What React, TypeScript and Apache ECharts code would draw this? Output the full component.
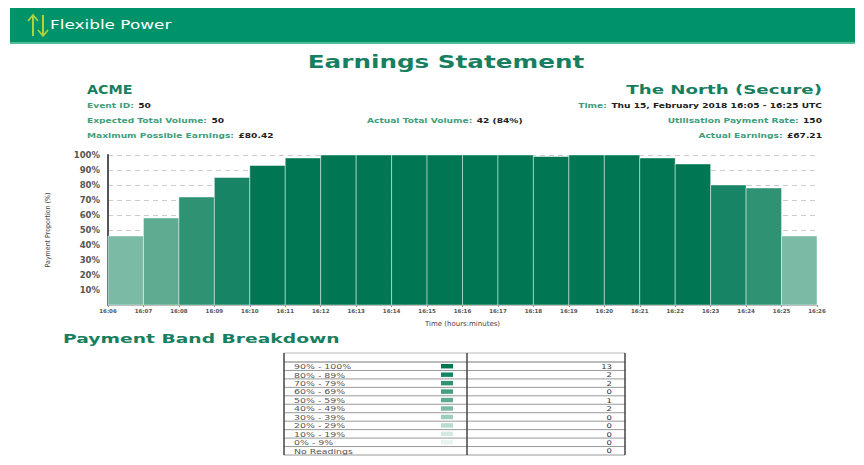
import React, { useEffect, useRef } from 'react';
import * as echarts from 'echarts';

const tickLabels = ['16:06','16:07','16:08','16:09','16:10','16:11','16:12','16:13','16:14','16:15','16:16','16:17','16:18','16:19','16:20','16:21','16:22','16:23','16:24','16:25','16:26'];
const paymentValues = [46, 58, 72, 85, 93, 98, 100, 100, 100, 100, 100, 100, 99, 100, 100, 98, 94, 80, 78, 46];
const bandLabels = ['90% - 100%','80% - 89%','70% - 79%','60% - 69%','50% - 59%','40% - 49%','30% - 39%','20% - 29%','10% - 19%','0% - 9%','No Readings'];
const bandCounts = [13, 2, 2, 0, 1, 2, 0, 0, 0, 0, 0];
const bandColors = ['#007653','#178565','#2e9273','#469e82','#5eab91','#7bbba6','#9ccdbd','#b9dcd0','#d3e9e1','#e8f3ef', ''];

const GREEN_HEAD = '#177f5f';
const GREEN_LBL = '#3f9e7d';
const DARK = '#222';

function bandIndex(v: number) {
  const i = 9 - Math.floor(v / 10);
  return Math.max(0, Math.min(9, i));
}

function infoText(x: number, y: number, label: string, value: string, align: string, sx = 1.3) {
  return {
    type: 'text', x, y, scaleX: sx,
    style: {
      text: `{l|${label}} {v|${value}}`,
      textAlign: align, textVerticalAlign: 'middle',
      rich: {
        l: { fontFamily: 'DejaVu Sans', fontSize: 7, fontWeight: 'bold', fill: GREEN_LBL, color: GREEN_LBL },
        v: { fontFamily: 'DejaVu Sans', fontSize: 7, fontWeight: 'bold', fill: DARK, color: DARK },
      },
    },
  };
}

export default function App() {
  const ref = useRef<HTMLDivElement>(null);
  useEffect(() => {
    if (!ref.current) return;
    const chart = echarts.init(ref.current, undefined, { renderer: 'svg' });
    const graphics: any[] = [];
    // header
    graphics.push({ type: 'rect', shape: { x: 10, y: 8, width: 845, height: 36 }, style: { fill: '#00936a' } });
    graphics.push({ type: 'rect', shape: { x: 10, y: 42, width: 845, height: 2 }, style: { fill: '#4fbf9a' } });
    graphics.push({ type: 'polyline', shape: { points: [[33, 36], [33, 16]] }, style: { stroke: '#b3d23a', lineWidth: 2, fill: 'none' } });
    graphics.push({ type: 'polyline', shape: { points: [[28, 21], [33, 15], [38, 21]] }, style: { stroke: '#b3d23a', lineWidth: 1.6, fill: 'none' } });
    graphics.push({ type: 'polyline', shape: { points: [[43, 15], [43, 35]] }, style: { stroke: '#b3d23a', lineWidth: 2, fill: 'none' } });
    graphics.push({ type: 'polyline', shape: { points: [[38, 30], [43, 36], [48, 30]] }, style: { stroke: '#b3d23a', lineWidth: 1.6, fill: 'none' } });
    graphics.push({ type: 'text', x: 50, y: 25, scaleX: 1.3, style: { text: 'Flexible Power', fill: '#fff', fontFamily: 'DejaVu Sans', fontSize: 13, textVerticalAlign: 'middle' } });
    // title
    graphics.push({ type: 'text', x: 446, y: 62, scaleX: 1.37, style: { text: 'Earnings Statement', fill: GREEN_HEAD, fontFamily: 'DejaVu Sans', fontWeight: 'bold', fontSize: 18, textAlign: 'center', textVerticalAlign: 'middle' } });
    graphics.push({ type: 'text', x: 87, y: 89, scaleX: 1.1, style: { text: 'ACME', fill: GREEN_HEAD, fontFamily: 'DejaVu Sans', fontWeight: 'bold', fontSize: 13, textAlign: 'left', textVerticalAlign: 'middle' } });
    graphics.push({ type: 'text', x: 822, y: 89, scaleX: 1.4, style: { text: 'The North (Secure)', fill: GREEN_HEAD, fontFamily: 'DejaVu Sans', fontWeight: 'bold', fontSize: 13, textAlign: 'right', textVerticalAlign: 'middle' } });
    graphics.push(infoText(87, 105, 'Event ID:', '50', 'left'));
    graphics.push(infoText(822, 105, 'Time:', 'Thu 15, February 2018 16:05 - 16:25 UTC', 'right'));
    graphics.push(infoText(87, 120, 'Expected Total Volume:', '50', 'left'));
    graphics.push(infoText(367, 120, 'Actual Total Volume:', '42 (84%)', 'left'));
    graphics.push(infoText(822, 120, 'Utilisation Payment Rate:', '150', 'right'));
    graphics.push(infoText(87, 135, 'Maximum Possible Earnings:', '£80.42', 'left'));
    graphics.push(infoText(822, 135, 'Actual Earnings:', '£67.21', 'right'));
    // band breakdown
    graphics.push({ type: 'text', x: 63, y: 339, scaleX: 1.44, style: { text: 'Payment Band Breakdown', fill: GREEN_HEAD, fontFamily: 'DejaVu Sans', fontWeight: 'bold', fontSize: 13, textAlign: 'left', textVerticalAlign: 'middle' } });
    const tx0 = 284, tx1 = 625, txm = 467, ty0 = 353, tyh = 362, rowH = (455 - 362) / 11;
    graphics.push({ type: 'line', shape: { x1: tx0, y1: ty0, x2: tx1, y2: ty0 }, style: { stroke: '#bbb', lineWidth: 1 } });
    graphics.push({ type: 'line', shape: { x1: tx0, y1: tyh, x2: tx1, y2: tyh }, style: { stroke: '#777', lineWidth: 1 } });
    bandLabels.forEach((lab, i) => {
      const y = tyh + rowH * i;
      const yb = y + rowH;
      graphics.push({ type: 'line', shape: { x1: tx0, y1: yb, x2: tx1, y2: yb }, style: { stroke: '#999', lineWidth: 1 } });
      graphics.push({ type: 'text', x: 294, y: y + rowH / 2 + 0.5, scaleX: 1.45, style: { text: lab, fill: '#555', fontFamily: 'DejaVu Sans', fontSize: 6.5, textVerticalAlign: 'middle' } });
      if (bandColors[i]) graphics.push({ type: 'rect', shape: { x: 441, y: y + 2, width: 12, height: rowH - 4 }, style: { fill: bandColors[i] } });
      graphics.push({ type: 'text', x: 612, y: y + rowH / 2 + 0.5, scaleX: 1.3, style: { text: String(bandCounts[i]), fill: '#333', fontFamily: 'DejaVu Sans', fontSize: 6.5, textAlign: 'right', textVerticalAlign: 'middle' } });
    });
    [tx0, txm, tx1].forEach((x) => {
      graphics.push({ type: 'line', shape: { x1: x, y1: ty0, x2: x, y2: 455 }, style: { stroke: '#444', lineWidth: 1.5 } });
    });

    const data = paymentValues.map((v, i) => [i, v]);
    chart.setOption({
      animation: false,
      backgroundColor: '#fff',
      grid: { left: 108, right: 47, top: 155, bottom: 160, containLabel: false },
      xAxis: {
        type: 'value', min: 0, max: 20, interval: 1,
        name: 'Time (hours:minutes)', nameLocation: 'middle', nameGap: 15,
        nameTextStyle: { fontFamily: 'DejaVu Sans', fontSize: 7, color: '#444' },
        axisLine: { show: true, lineStyle: { color: '#aaa', width: 1 } },
        axisTick: { show: true, length: 2, lineStyle: { color: '#888' } },
        axisLabel: { formatter: (v: number) => tickLabels[v] ?? '', fontFamily: 'DejaVu Sans', fontWeight: 'bold', fontSize: 5.5, color: '#555', margin: 3 },
        splitLine: { show: false },
      },
      yAxis: {
        type: 'value', min: 0, max: 100, interval: 10,
        name: 'Payment Proportion (%)', nameLocation: 'middle', nameGap: 57, nameRotate: 90,
        nameTextStyle: { fontFamily: 'Liberation Sans Narrow, DejaVu Sans Condensed, DejaVu Sans', fontSize: 7, color: '#444' },
        axisLine: { show: true, lineStyle: { color: '#555', width: 2 } },
        axisTick: { show: false },
        axisLabel: { formatter: (v: number) => (v === 0 ? '' : v + '%'), fontFamily: 'DejaVu Sans', fontWeight: 'bold', fontSize: 8.5, color: '#555', margin: 8 },
        splitLine: { show: true, lineStyle: { color: '#ccc', type: [5, 4], width: 1 } },
      },
      series: [{
        type: 'custom',
        data,
        encode: { x: 0, y: 1 },
        renderItem: (params: any, api: any) => {
          const i = api.value(0);
          const v = api.value(1);
          const p0 = api.coord([i, v]);
          const p1 = api.coord([i + 1, 0]);
          return {
            type: 'rect',
            shape: { x: p0[0], y: p0[1], width: p1[0] - p0[0], height: p1[1] - p0[1] },
            style: { fill: bandColors[bandIndex(v)], stroke: 'rgba(255,255,255,0.45)', lineWidth: 1 },
          };
        },
        z: 1,
      }],
      graphic: graphics,
    });
    return () => chart.dispose();
  }, []);
  return <div ref={ref} style={{ position: 'fixed', left: 0, top: 0, width: 864, height: 465, background: '#fff' }} />;
}
